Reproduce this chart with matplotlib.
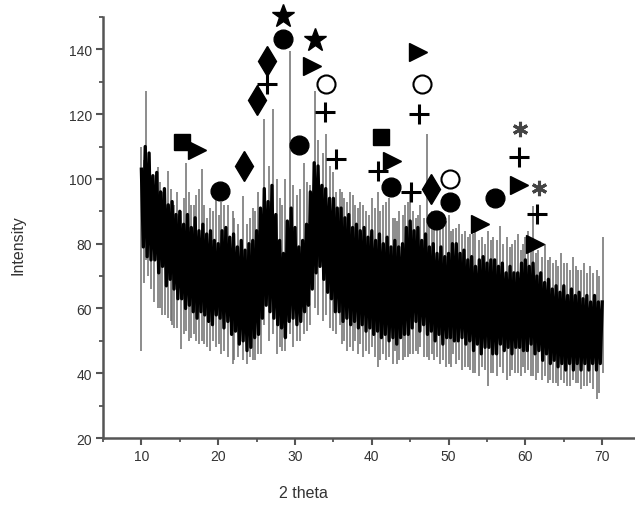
import numpy as np
import matplotlib
matplotlib.use("Agg")
import matplotlib.pyplot as plt

# 2 theta grid of the scan (step 0.25 deg)
two_theta = np.arange(10, 70.001, 0.25)

# intensity, 4 points per degree (10 ... 70)
intensity = [
    103, 79, 110, 76,   # 10
    108, 75, 101, 75,   # 11
    102, 71, 96, 73,    # 12
    97, 67, 92, 69,     # 13
    93, 66, 89, 63,     # 14
    90, 63, 86, 60,     # 15
    89, 61, 85, 59,     # 16
    88, 57, 84, 59,     # 17
    86, 58, 83, 56,     # 18
    84, 55, 81, 58,     # 19
    80, 57, 84, 54,     # 20
    85, 56, 82, 52,     # 21
    83, 53, 79, 49,     # 22
    81, 50, 78, 47,     # 23
    80, 48, 81, 51,     # 24
    84, 52, 91, 57,     # 25
    97, 61, 93, 59,     # 26
    98, 57, 89, 55,     # 27
    81, 54, 77, 51,     # 28
    87, 56, 91, 57,     # 29
    85, 55, 79, 56,     # 30
    81, 59, 86, 61,     # 31
    96, 66, 105, 71,    # 32
    104, 73, 98, 69,    # 33
    97, 65, 94, 63,     # 34
    94, 59, 91, 59,     # 35
    91, 56, 88, 57,     # 36
    89, 55, 85, 56,     # 37
    86, 54, 84, 55,     # 38
    85, 53, 82, 54,     # 39
    84, 52, 81, 53,     # 40
    83, 51, 80, 52,     # 41
    82, 50, 79, 51,     # 42
    81, 49, 79, 51,     # 43
    80, 52, 85, 52,     # 44
    87, 54, 84, 56,     # 45
    85, 53, 81, 55,     # 46
    83, 52, 79, 53,     # 47
    80, 50, 77, 52,     # 48
    79, 49, 76, 51,     # 49
    77, 51, 80, 50,     # 50
    80, 50, 77, 51,     # 51
    78, 49, 75, 50,     # 52
    76, 47, 73, 49,     # 53
    75, 46, 76, 48,     # 54
    74, 48, 75, 46,     # 55
    75, 46, 73, 49,     # 56
    74, 47, 71, 48,     # 57
    73, 46, 71, 48,     # 58
    71, 48, 74, 47,     # 59
    75, 47, 73, 49,     # 60
    74, 46, 70, 47,     # 61
    71, 44, 68, 46,     # 62
    69, 43, 66, 44,     # 63
    67, 42, 65, 43,     # 64
    67, 41, 64, 43,     # 65
    66, 41, 64, 43,     # 66
    65, 41, 63, 43,     # 67
    64, 41, 62, 43,     # 68
    64, 41, 62, 43,     # 69
    62,                 # 70
]

# single counts sticking out of the noise band (position, low, high)
spike_pos = [10.0, 10.6, 11.3, 12.1, 12.7, 13.4, 14.0, 14.6, 15.2, 15.8, 16.5, 17.1,
             17.9, 18.5, 19.3, 20.1, 20.8, 21.9, 22.6, 23.2, 24.2, 24.8, 25.6, 26.0,
             27.1, 28.0, 28.7, 29.4, 30.3, 31.2, 32.0, 32.6, 34.1, 35.0, 35.8, 36.4,
             37.1, 37.8, 38.5, 39.3, 40.0, 40.8, 41.5, 42.3, 43.0, 43.6, 44.3, 45.0,
             45.7, 46.3, 47.2, 47.8, 48.5, 49.3, 50.0, 50.6, 51.4, 52.1, 52.8, 53.5,
             54.3, 55.1, 55.8, 56.7, 57.6, 58.3, 59.0, 59.7, 60.3, 61.0, 61.7, 62.5,
             63.2, 64.0, 64.7, 65.4, 66.2, 66.9, 67.6, 68.4, 69.3, 70.1,
             10.3, 10.9, 11.7, 12.4, 13.1, 13.8, 14.3, 15.5, 16.2, 16.8, 17.5, 18.2,
             18.9, 19.7, 20.4, 21.3, 22.1, 23.7, 24.5, 25.2, 26.6, 27.6, 28.3, 29.8,
             30.7, 31.6, 33.0, 33.7, 34.6, 35.3, 36.1, 36.8, 37.5, 38.2, 38.9, 39.6,
             40.4, 41.1, 41.9, 42.7, 43.3, 44.0, 44.7, 45.4, 46.0, 46.8, 47.5, 48.1,
             48.9, 49.6, 50.3, 51.0, 51.8, 52.5, 53.2, 53.9, 54.7, 55.5, 56.3, 57.1,
             58.0, 58.7, 59.4, 60.0, 60.7, 61.4, 62.1, 62.9, 63.6, 64.3, 65.0, 65.8,
             66.6, 67.3, 68.0, 68.8, 69.6]
spike_low = [47, 75, 66, 60, 58, 57, 55, 54, 47.5, 53, 51, 50,
             50, 48, 50, 49, 47, 43, 45, 44, 45, 44, 46, 55,
             52, 48, 47, 52, 50, 52, 55, 60, 58, 53, 55, 50,
             48, 50, 49, 47, 48, 42, 46, 45, 47, 44, 45, 46,
             47, 48, 45, 46, 45, 44, 43, 46, 44, 42, 41, 40,
             42, 36, 40, 42, 38, 41, 40, 42, 41, 39, 40, 39,
             38, 37, 38, 36, 38, 37, 36, 37, 32, 40,
             68, 70, 62, 60, 58, 56, 54, 52, 50, 52, 49, 49,
             47, 48, 46, 45, 44, 43, 44, 46, 50, 46, 47, 48,
             50, 53, 58, 56, 54, 52, 49, 47, 47, 46, 45, 46,
             45, 44, 44, 43, 43, 44, 45, 46, 46, 45, 44, 44,
             43, 42, 42, 43, 41, 42, 40, 39, 41, 40, 39, 40,
             39, 40, 39, 40, 39, 38, 38, 37, 37, 36, 37, 36,
             37, 35, 36, 35, 34]
spike_high = [110, 127, 100, 103.6, 96, 102.5, 92, 96, 90, 105, 92, 95,
              103, 88, 90, 89, 92, 90, 86, 94.7, 88, 90, 90, 118.5,
              121.5, 94, 100, 139.5, 95, 105, 98, 127, 114, 102, 97, 94,
              96, 92, 93, 90, 94, 96, 92, 94, 88, 90, 92, 96,
              88, 92, 114, 90, 88, 86, 89, 84.5, 86, 84, 83, 86,
              82, 84, 82, 85.5, 82, 80, 83, 80, 84, 91.6, 78, 80,
              76, 75, 77, 74, 76, 72, 74, 73, 72, 82,
              106, 104, 98, 99, 95, 97, 92, 94, 96, 92, 97, 92,
              91, 95, 93, 92, 88, 86, 91, 96, 104, 100, 92, 98,
              97, 99, 112, 108, 104, 96, 96, 93, 95, 91, 92, 89,
              91, 90, 93, 88, 87, 89, 93, 90, 89, 88, 87, 86,
              85, 87, 84, 85, 83, 82, 83, 81, 80, 81, 81, 80,
              79, 81, 78, 82, 79, 77, 76, 75, 74, 73, 74, 72,
              73, 72, 71, 71, 70]

# phase markers (x, y) for each symbol
square_x, square_y = [15.35, 41.2], [111.4, 112.9]
tri_x = [17.3, 32.2, 42.6, 46.0, 54.1, 59.2, 61.2]
tri_y = [108.9, 134.8, 105.5, 139.1, 86.0, 98.1, 79.9]
dot_x = [20.3, 28.5, 30.5, 42.5, 50.2, 48.3, 56.0]
dot_y = [96.2, 143.1, 110.4, 97.5, 92.8, 87.3, 94.1]
diam_x = [23.3, 25.1, 26.3, 47.7]
diam_y = [104.0, 124.3, 136.4, 96.9]
plus_x = [26.3, 33.9, 35.4, 40.8, 45.1, 46.2, 59.2, 61.5]
plus_y = [129.3, 120.6, 106.1, 102.4, 95.9, 120.0, 106.7, 89.1]
star_x, star_y = [28.4, 32.6], [150.2, 142.8]
ocirc_x, ocirc_y = [34.0, 46.5, 50.2], [129.3, 129.3, 99.9]
ast_x, ast_y = [59.3, 61.8], [115.4, 97.2]

plt.rcParams['font.family'] = ['Liberation Sans', 'DejaVu Sans']
fig = plt.figure(figsize=(6.35, 5.06), dpi=100)
ax = fig.add_axes([0.1622, 0.1324, 0.8466, 0.832])

# pattern: grey single spikes under the dense black noise band
ax.vlines(spike_pos, spike_low, spike_high, color='#6e6e6e', lw=1.1, zorder=1)
ax.plot(two_theta, intensity, color='black', lw=2.4, zorder=2)

# phase markers
mk = dict(color='black', linestyle='none', clip_on=False, zorder=5)
ax.plot(square_x, square_y, marker='s', ms=12, **mk)
ax.plot(tri_x, tri_y, marker='>', ms=13, **mk)
ax.plot(dot_x, dot_y, marker='o', ms=13.5, **mk)
ax.plot(diam_x, diam_y, marker='d', ms=15, **mk)
ax.plot(plus_x, plus_y, marker='+', ms=14, mew=2.2, **mk)
ax.plot(star_x, star_y, marker='*', ms=17, **mk)
ax.plot(ocirc_x, ocirc_y, marker='o', ms=13, mfc='white', mec='black', mew=1.5,
        color='black', linestyle='none', clip_on=False, zorder=5)
ax.plot(ast_x, ast_y, marker=(6, 2, 0), ms=11, mew=2.2, color='#444',
        linestyle='none', clip_on=False, zorder=5)

ax.set_xlim(5, 75)
ax.set_ylim(20, 150)
ax.set_xticks(range(10, 71, 10))
ax.set_xticks(range(5, 75, 5), minor=True)
ax.set_yticks(range(20, 141, 20))
ax.set_yticks(range(30, 151, 20), minor=True)

for side in ['top', 'right']:
    ax.spines[side].set_visible(False)
for side in ['left', 'bottom']:
    ax.spines[side].set_color('#555555')
    ax.spines[side].set_linewidth(1.8)

ax.tick_params(which='major', length=5, width=1.5, color='#555555', labelsize=10,
               labelcolor='#333333', pad=3)
ax.tick_params(which='minor', length=3, width=1.3, color='#555555')

ax.set_xlabel('2 theta', fontsize=11.5, color='#333333')
ax.set_ylabel('Intensity', fontsize=11.5, color='#333333')
ax.xaxis.set_label_coords(0.372, -0.112)
ax.yaxis.set_label_coords(-0.145, 0.46)

fig.savefig('out.png', dpi=100)
